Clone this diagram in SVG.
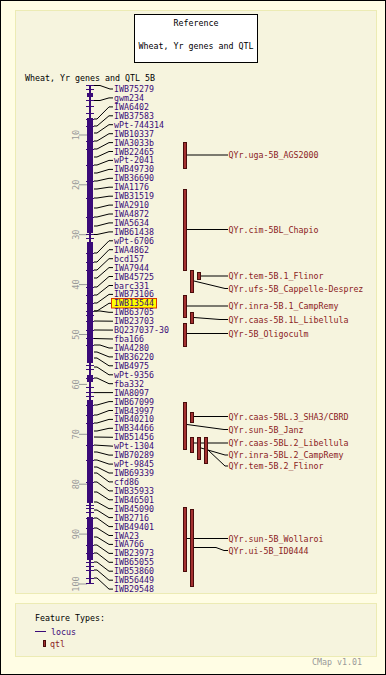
<svg xmlns="http://www.w3.org/2000/svg" width="386" height="675" viewBox="0 0 386 675">
<style>
text{font-family:"DejaVu Sans Mono","Liberation Mono",monospace;font-size:8.3px}
.blk{fill:#000}
.loc{fill:#3a0a78}
.qt{fill:#8b2222}
.sc{fill:#999;font-size:8.5px}
.cn{stroke:#000;stroke-width:1;fill:none}
.tk{stroke:#3a0a78;stroke-width:1}
.bar{fill:#3a0a78}
.qb{fill:#a33030;stroke:#4a0c0c;stroke-width:1}
.gt{stroke:#999;stroke-width:1}
</style>
<rect x="0.5" y="0.5" width="385" height="674" fill="#fffde4" stroke="#000"/>
<rect x="15.5" y="10.5" width="361" height="583" fill="#f6f4de" stroke="#ecebb4"/>
<rect x="15.5" y="603.5" width="361" height="53" fill="#f6f4de" stroke="#ecebb4"/>

<g id="reference">
<rect x="134.5" y="14.5" width="123" height="48" fill="#fff" stroke="#000"/>
<text x="196" y="26" text-anchor="middle" class="blk">Reference</text>
<text x="196" y="49" text-anchor="middle" class="blk">Wheat, Yr genes and QTL</text>
</g>
<text x="25" y="81" class="blk">Wheat, Yr genes and QTL 5B</text>

<g id="scale">
<line class="gt" x1="79" y1="135" x2="87" y2="135"/><text class="sc" transform="translate(79,135) rotate(-90)" text-anchor="middle">10</text>
<line class="gt" x1="79" y1="184.8" x2="87" y2="184.8"/><text class="sc" transform="translate(79,184.8) rotate(-90)" text-anchor="middle">20</text>
<line class="gt" x1="79" y1="234.7" x2="87" y2="234.7"/><text class="sc" transform="translate(79,234.7) rotate(-90)" text-anchor="middle">30</text>
<line class="gt" x1="79" y1="284.6" x2="87" y2="284.6"/><text class="sc" transform="translate(79,284.6) rotate(-90)" text-anchor="middle">40</text>
<line class="gt" x1="79" y1="334.5" x2="87" y2="334.5"/><text class="sc" transform="translate(79,334.5) rotate(-90)" text-anchor="middle">50</text>
<line class="gt" x1="79" y1="384.4" x2="87" y2="384.4"/><text class="sc" transform="translate(79,384.4) rotate(-90)" text-anchor="middle">60</text>
<line class="gt" x1="79" y1="434.3" x2="87" y2="434.3"/><text class="sc" transform="translate(79,434.3) rotate(-90)" text-anchor="middle">70</text>
<line class="gt" x1="79" y1="484.2" x2="87" y2="484.2"/><text class="sc" transform="translate(79,484.2) rotate(-90)" text-anchor="middle">80</text>
<line class="gt" x1="79" y1="534.1" x2="87" y2="534.1"/><text class="sc" transform="translate(79,534.1) rotate(-90)" text-anchor="middle">90</text>
<line class="gt" x1="79" y1="584" x2="87" y2="584"/><text class="sc" transform="translate(79,584) rotate(-90)" text-anchor="middle">100</text>
</g>

<g id="connectors">
<polyline class="cn" points="94,85.5 100,85.5 110,89 113,89"/>
<polyline class="cn" points="94,100.5 100,100.5 109,97.9 113,97.9"/>
<polyline class="cn" points="94,119 97,119 109,106.9 113,106.9"/>
<polyline class="cn" points="94,126 97,126 109,115.8 113,115.8"/>
<polyline class="cn" points="94,133 97,133 109,124.7 113,124.7"/>
<polyline class="cn" points="94,141 97,141 109,133.7 113,133.7"/>
<polyline class="cn" points="94,149 97,149 109,142.6 113,142.6"/>
<polyline class="cn" points="94,157 97,157 109,151.5 113,151.5"/>
<polyline class="cn" points="94,165 97,165 109,160.4 113,160.4"/>
<polyline class="cn" points="94,173 97,173 109,169.4 113,169.4"/>
<polyline class="cn" points="94,181 97,181 109,178.3 113,178.3"/>
<polyline class="cn" points="94,189 97,189 109,187.2 113,187.2"/>
<polyline class="cn" points="94,198 97,198 109,196.2 113,196.2"/>
<polyline class="cn" points="94,208 97,208 109,205.1 113,205.1"/>
<polyline class="cn" points="94,217 97,217 109,214 113,214"/>
<polyline class="cn" points="94,226 97,226 109,222.9 113,222.9"/>
<polyline class="cn" points="94,234.5 97,234.5 109,231.9 113,231.9"/>
<polyline class="cn" points="94,253 97,253 109,240.8 113,240.8"/>
<polyline class="cn" points="94,262 97,262 109,249.7 113,249.7"/>
<polyline class="cn" points="94,270 97,270 109,258.7 113,258.7"/>
<polyline class="cn" points="94,278 97,278 109,267.6 113,267.6"/>
<polyline class="cn" points="94,287 97,287 109,276.5 113,276.5"/>
<polyline class="cn" points="94,295 97,295 109,285.5 113,285.5"/>
<polyline class="cn" points="94,303 97,303 109,294.4 113,294.4"/>
<polyline class="cn" points="94,311 97,311 109,303.3 112,303.3"/>
<polyline class="cn" points="94,311 100,311 109,312.3 113,312.3"/>
<polyline class="cn" points="94,321 113,321.2"/>
<polyline class="cn" points="94,330 113,330.1"/>
<polyline class="cn" points="94,338.5 113,339"/>
<polyline class="cn" points="94,345 100,345 109,348 113,348"/>
<polyline class="cn" points="94,352 97,352 109,356.9 113,356.9"/>
<polyline class="cn" points="94,358 97,358 109,365.8 113,365.8"/>
<polyline class="cn" points="94,367 97,367 109,374.8 113,374.8"/>
<polyline class="cn" points="94,378 97,378 109,383.7 113,383.7"/>
<polyline class="cn" points="94,392.6 113,392.6"/>
<polyline class="cn" points="94,405 97,405 109,401.6 113,401.6"/>
<polyline class="cn" points="94,415 97,415 109,410.5 113,410.5"/>
<polyline class="cn" points="94,423 97,423 109,419.4 113,419.4"/>
<polyline class="cn" points="94,431 97,431 109,428.3 113,428.3"/>
<polyline class="cn" points="94,437 113,437.3"/>
<polyline class="cn" points="94,445 113,446.2"/>
<polyline class="cn" points="94,452 97,452 109,455.1 113,455.1"/>
<polyline class="cn" points="94,460 97,460 109,464.1 113,464.1"/>
<polyline class="cn" points="94,467 97,467 109,473 113,473"/>
<polyline class="cn" points="94,473 97,473 109,481.9 113,481.9"/>
<polyline class="cn" points="94,482 97,482 109,490.9 113,490.9"/>
<polyline class="cn" points="94,492 97,492 109,499.8 113,499.8"/>
<polyline class="cn" points="94,502 97,502 109,508.7 113,508.7"/>
<polyline class="cn" points="94,510 97,510 109,517.6 113,517.6"/>
<polyline class="cn" points="94,518 97,518 109,526.6 113,526.6"/>
<polyline class="cn" points="94,528 97,528 109,535.5 113,535.5"/>
<polyline class="cn" points="94,537 97,537 109,544.4 113,544.4"/>
<polyline class="cn" points="94,545 97,545 109,553.4 113,553.4"/>
<polyline class="cn" points="94,553 97,553 109,562.3 113,562.3"/>
<polyline class="cn" points="94,562 97,562 109,571.2 113,571.2"/>
<polyline class="cn" points="94,570 97,570 109,580.2 113,580.2"/>
<polyline class="cn" points="94,578 97,578 109,589.1 113,589.1"/>
<polyline class="cn" points="187,155 228,155"/>
<polyline class="cn" points="187,229.5 228,229.5"/>
<polyline class="cn" points="201,276 228,276"/>
<polyline class="cn" points="194,281 225,288.5 228,288.5"/>
<polyline class="cn" points="187,306 228,306"/>
<polyline class="cn" points="194,317.5 220,319.5 228,319.5"/>
<polyline class="cn" points="187,333.5 228,333.5"/>
<polyline class="cn" points="194,416.5 228,416.5"/>
<polyline class="cn" points="187,424.5 224,429.5 228,429.5"/>
<polyline class="cn" points="194,443 228,443"/>
<polyline class="cn" points="201,448 225,455 228,455"/>
<polyline class="cn" points="208,450 225,466 228,466"/>
<polyline class="cn" points="187,538.5 228,538.5"/>
<polyline class="cn" points="194,547.5 216,547.5 224,550.5 228,550.5"/>
</g>

<g id="map-5B">
<rect class="bar" x="89" y="85" width="2" height="499"/>
<rect class="bar" x="87" y="93" width="6" height="4"/>
<rect class="bar" x="87" y="118" width="6" height="115"/>
<rect class="bar" x="87" y="242" width="6" height="121"/>
<rect class="bar" x="87" y="375" width="6" height="7"/>
<rect class="bar" x="87" y="400" width="6" height="103"/>
<rect class="bar" x="87" y="517" width="6" height="43"/>
<g class="tk">
<line x1="86" y1="85.5" x2="94" y2="85.5"/><line x1="86" y1="583.5" x2="94" y2="583.5"/>
<line x1="86" y1="89.5" x2="94" y2="89.5"/><line x1="86" y1="100.5" x2="94" y2="100.5"/><line x1="86" y1="106.5" x2="94" y2="106.5"/><line x1="86" y1="113.5" x2="94" y2="113.5"/>
<line x1="86" y1="119.5" x2="94" y2="119.5"/><line x1="86" y1="126.5" x2="94" y2="126.5"/><line x1="86" y1="141.5" x2="94" y2="141.5"/><line x1="86" y1="149.5" x2="94" y2="149.5"/>
<line x1="86" y1="165.5" x2="94" y2="165.5"/><line x1="86" y1="181.5" x2="94" y2="181.5"/><line x1="86" y1="198.5" x2="94" y2="198.5"/><line x1="86" y1="217.5" x2="94" y2="217.5"/>
<line x1="86" y1="234.5" x2="94" y2="234.5"/><line x1="86" y1="238.5" x2="94" y2="238.5"/><line x1="86" y1="253.5" x2="94" y2="253.5"/><line x1="86" y1="262.5" x2="94" y2="262.5"/>
<line x1="86" y1="270.5" x2="94" y2="270.5"/><line x1="86" y1="287.5" x2="94" y2="287.5"/><line x1="86" y1="295.5" x2="94" y2="295.5"/><line x1="86" y1="303.5" x2="94" y2="303.5"/>
<line x1="86" y1="311.5" x2="94" y2="311.5"/><line x1="86" y1="315.5" x2="94" y2="315.5"/><line x1="86" y1="321.5" x2="94" y2="321.5"/><line x1="86" y1="330.5" x2="94" y2="330.5"/>
<line x1="86" y1="338.5" x2="94" y2="338.5"/><line x1="86" y1="345.5" x2="94" y2="345.5"/><line x1="86" y1="365.5" x2="94" y2="365.5"/><line x1="86" y1="369.5" x2="94" y2="369.5"/>
<line x1="86" y1="378.5" x2="94" y2="378.5"/><line x1="86" y1="387.5" x2="94" y2="387.5"/><line x1="86" y1="392.5" x2="94" y2="392.5"/><line x1="86" y1="396.5" x2="94" y2="396.5"/>
<line x1="86" y1="405.5" x2="94" y2="405.5"/><line x1="86" y1="415.5" x2="94" y2="415.5"/><line x1="86" y1="423.5" x2="94" y2="423.5"/><line x1="86" y1="445.5" x2="94" y2="445.5"/>
<line x1="86" y1="460.5" x2="94" y2="460.5"/><line x1="86" y1="482.5" x2="94" y2="482.5"/><line x1="86" y1="505.5" x2="94" y2="505.5"/><line x1="86" y1="508.5" x2="94" y2="508.5"/>
<line x1="86" y1="512.5" x2="94" y2="512.5"/><line x1="86" y1="518.5" x2="94" y2="518.5"/><line x1="86" y1="528.5" x2="94" y2="528.5"/><line x1="86" y1="545.5" x2="94" y2="545.5"/>
<line x1="86" y1="553.5" x2="94" y2="553.5"/><line x1="86" y1="562.5" x2="94" y2="562.5"/><line x1="86" y1="566.5" x2="94" y2="566.5"/><line x1="86" y1="570.5" x2="94" y2="570.5"/>
<line x1="86" y1="578.5" x2="94" y2="578.5"/>
</g>
</g>

<g id="loci">
<g id="m0"><text class="loc" x="114" y="92">IWB75279</text></g>
<g id="m1"><text class="loc" x="114" y="100.9">gwm234</text></g>
<g id="m2"><text class="loc" x="114" y="109.9">IWA6402</text></g>
<g id="m3"><text class="loc" x="114" y="118.8">IWB37583</text></g>
<g id="m4"><text class="loc" x="114" y="127.7">wPt-744314</text></g>
<g id="m5"><text class="loc" x="114" y="136.7">IWB10337</text></g>
<g id="m6"><text class="loc" x="114" y="145.6">IWA3033b</text></g>
<g id="m7"><text class="loc" x="114" y="154.5">IWB22465</text></g>
<g id="m8"><text class="loc" x="114" y="163.4">wPt-2041</text></g>
<g id="m9"><text class="loc" x="114" y="172.4">IWB49730</text></g>
<g id="m10"><text class="loc" x="114" y="181.3">IWB36690</text></g>
<g id="m11"><text class="loc" x="114" y="190.2">IWA1176</text></g>
<g id="m12"><text class="loc" x="114" y="199.2">IWB31519</text></g>
<g id="m13"><text class="loc" x="114" y="208.1">IWA2910</text></g>
<g id="m14"><text class="loc" x="114" y="217">IWA4872</text></g>
<g id="m15"><text class="loc" x="114" y="225.9">IWA5634</text></g>
<g id="m16"><text class="loc" x="114" y="234.9">IWB61438</text></g>
<g id="m17"><text class="loc" x="114" y="243.8">wPt-6706</text></g>
<g id="m18"><text class="loc" x="114" y="252.7">IWA4862</text></g>
<g id="m19"><text class="loc" x="114" y="261.7">bcd157</text></g>
<g id="m20"><text class="loc" x="114" y="270.6">IWA7944</text></g>
<g id="m21"><text class="loc" x="114" y="279.5">IWB45725</text></g>
<g id="m22"><text class="loc" x="114" y="288.5">barc331</text></g>
<g id="m23"><text class="loc" x="114" y="297.4">IWB73106</text></g>
<g id="m24"><rect x="111.5" y="298.5" width="45" height="9.5" fill="#ffff00" stroke="#d83a00"/><text class="loc" x="114" y="306.3">IWB13544</text></g>
<g id="m25"><text class="loc" x="114" y="315.3">IWB63705</text></g>
<g id="m26"><text class="loc" x="114" y="324.2">IWB23703</text></g>
<g id="m27"><text class="loc" x="114" y="333.1">BQ237037-30</text></g>
<g id="m28"><text class="loc" x="114" y="342">fba166</text></g>
<g id="m29"><text class="loc" x="114" y="351">IWA4280</text></g>
<g id="m30"><text class="loc" x="114" y="359.9">IWB36220</text></g>
<g id="m31"><text class="loc" x="114" y="368.8">IWB4975</text></g>
<g id="m32"><text class="loc" x="114" y="377.8">wPt-9356</text></g>
<g id="m33"><text class="loc" x="114" y="386.7">fba332</text></g>
<g id="m34"><text class="loc" x="114" y="395.6">IWA8097</text></g>
<g id="m35"><text class="loc" x="114" y="404.6">IWB67099</text></g>
<g id="m36"><text class="loc" x="114" y="413.5">IWB43997</text></g>
<g id="m37"><text class="loc" x="114" y="422.4">IWB40210</text></g>
<g id="m38"><text class="loc" x="114" y="431.3">IWB34466</text></g>
<g id="m39"><text class="loc" x="114" y="440.3">IWB51456</text></g>
<g id="m40"><text class="loc" x="114" y="449.2">wPt-1304</text></g>
<g id="m41"><text class="loc" x="114" y="458.1">IWB70289</text></g>
<g id="m42"><text class="loc" x="114" y="467.1">wPt-9845</text></g>
<g id="m43"><text class="loc" x="114" y="476">IWB69339</text></g>
<g id="m44"><text class="loc" x="114" y="484.9">cfd86</text></g>
<g id="m45"><text class="loc" x="114" y="493.9">IWB35933</text></g>
<g id="m46"><text class="loc" x="114" y="502.8">IWB46501</text></g>
<g id="m47"><text class="loc" x="114" y="511.7">IWB45090</text></g>
<g id="m48"><text class="loc" x="114" y="520.6">IWB2716</text></g>
<g id="m49"><text class="loc" x="114" y="529.6">IWB49401</text></g>
<g id="m50"><text class="loc" x="114" y="538.5">IWA23</text></g>
<g id="m51"><text class="loc" x="114" y="547.4">IWA766</text></g>
<g id="m52"><text class="loc" x="114" y="556.4">IWB23973</text></g>
<g id="m53"><text class="loc" x="114" y="565.3">IWB65055</text></g>
<g id="m54"><text class="loc" x="114" y="574.2">IWB53860</text></g>
<g id="m55"><text class="loc" x="114" y="583.2">IWB56449</text></g>
<g id="m56"><text class="loc" x="114" y="592.1">IWB29548</text></g>
</g>

<g id="qtls">
<g id="q1"><rect class="qb" x="183.5" y="142.5" width="3" height="26"/><text class="qt" x="228.5" y="158">QYr.uga-5B_AGS2000</text></g>
<g id="q2"><rect class="qb" x="183.5" y="189.5" width="3" height="81"/><text class="qt" x="228.5" y="232.5">QYr.cim-5BL_Chapio</text></g>
<g id="q3"><rect class="qb" x="197.5" y="272.5" width="3" height="7"/><text class="qt" x="228.5" y="279">QYr.tem-5B.1_Flinor</text></g>
<g id="q4"><rect class="qb" x="190.5" y="270.5" width="3" height="22"/><text class="qt" x="228.5" y="291.5">QYr.ufs-5B_Cappelle-Desprez</text></g>
<g id="q5"><rect class="qb" x="183.5" y="295.5" width="3" height="22"/><text class="qt" x="228.5" y="309">QYr.inra-5B.1_CampRemy</text></g>
<g id="q6"><rect class="qb" x="190.5" y="312.5" width="3" height="11"/><text class="qt" x="228.5" y="322.5">QYr.caas-5B.1L_Libellula</text></g>
<g id="q7"><rect class="qb" x="183.5" y="323.5" width="3" height="23"/><text class="qt" x="228.5" y="336.5">QYr-5B_Oligoculm</text></g>
<g id="q8"><rect class="qb" x="190.5" y="412.5" width="3" height="10"/><text class="qt" x="228.5" y="419.5">QYr.caas-5BL.3_SHA3/CBRD</text></g>
<g id="q9"><rect class="qb" x="183.5" y="402.5" width="3" height="47"/><text class="qt" x="228.5" y="432.5">QYr.sun-5B_Janz</text></g>
<g id="q10"><rect class="qb" x="190.5" y="437.5" width="3" height="15"/><text class="qt" x="228.5" y="446">QYr.caas-5BL.2_Libellula</text></g>
<g id="q11"><rect class="qb" x="197.5" y="437.5" width="3" height="22"/><text class="qt" x="228.5" y="458">QYr.inra-5BL.2_CampRemy</text></g>
<g id="q12"><rect class="qb" x="204.5" y="437.5" width="3" height="26"/><text class="qt" x="228.5" y="469">QYr.tem-5B.2_Flinor</text></g>
<g id="q13"><rect class="qb" x="183.5" y="507.5" width="3" height="64"/><text class="qt" x="228.5" y="541.5">QYr.sun-5B_Wollaroi</text></g>
<g id="q14"><rect class="qb" x="190.5" y="509.5" width="3" height="77"/><text class="qt" x="228.5" y="553.5">QYr.ui-5B_ID0444</text></g>
</g>

<g id="legend">
<text class="blk" x="35" y="620.5">Feature Types:</text>
<line x1="35" y1="631.5" x2="46" y2="631.5" stroke="#3a0a78"/>
<text class="loc" x="51" y="634.5">locus</text>
<rect class="qb" x="43.5" y="640.5" width="2" height="6"/>
<text class="qt" x="50" y="646.5">qtl</text>
</g>
<text x="312" y="664.5" fill="#999">CMap v1.01</text>
</svg>
